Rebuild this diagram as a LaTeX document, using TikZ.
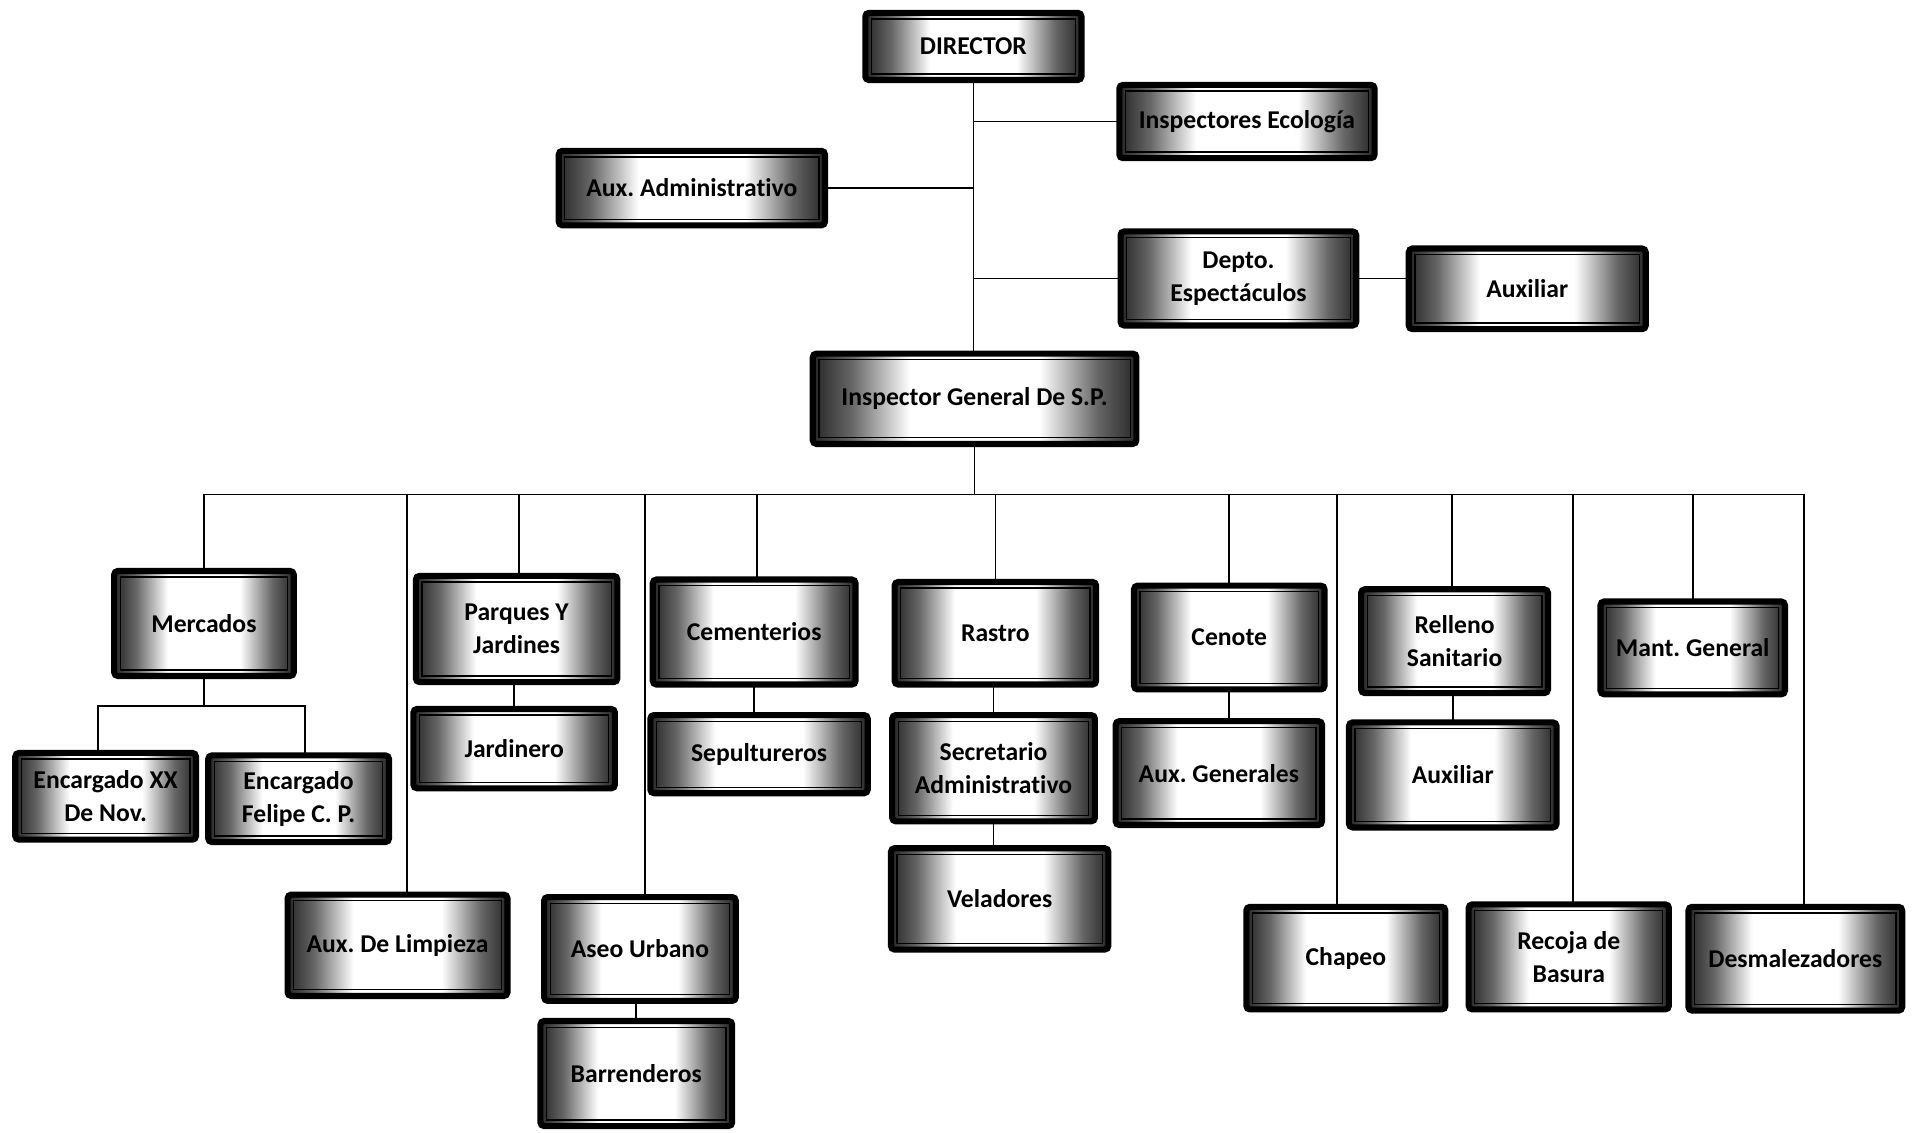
\documentclass[tikz,border=0pt]{standalone}
\usepackage{fontspec}
\setmainfont[Ligatures=NoCommon]{Carlito}
\frenchspacing
\pgfdeclarehorizontalshading{boxshade}{100bp}{color(0bp)=(black!85); color(25bp)=(black!85); color(31bp)=(black!60); color(40bp)=(white); color(60bp)=(white); color(69bp)=(black!60); color(75bp)=(black!85); color(100bp)=(black!85)}
\begin{document}
\begin{tikzpicture}[x=1pt,y=-1pt,
  box/.style={draw=black, line width=5pt, rounded corners=3pt, shade, shading=boxshade,
    inner sep=2pt, align=center, font=\bfseries\fontsize{21}{27}\selectfont,
    path picture={\draw[line width=1pt,sharp corners] ([shift={(5pt,-5pt)}]path picture bounding box.north west) rectangle ([shift={(-5pt,5pt)}]path picture bounding box.south east);}},
  conn/.style={line width=1.4pt, line cap=rect}]
\fill[white] (0,0) rectangle (1568,927);
\useasboundingbox (0,0) rectangle (1568,927);

% top part
\node[box, minimum width=177pt, minimum height=55pt] (dir) at (797,38) {DIRECTOR};
\node[box, minimum width=209pt, minimum height=60pt] (eco) at (1021,99.5) {Inspectores Ecología};
\node[box, minimum width=218pt, minimum height=61pt] (adm) at (566.5,154) {Aux. Administrativo};
\node[box, minimum width=193pt, minimum height=77pt] (dep) at (1014,228) {Depto.\\Espectáculos};
\node[box, minimum width=194pt, minimum height=66pt] (aux1) at (1250.5,236.5) {Auxiliar};
\node[box, minimum width=265pt, minimum height=74pt] (ig) at (798,326.5) {Inspector General De S.P.};

% second level
\node[box, minimum width=147pt, minimum height=86pt] (mer) at (167,510.5) {Mercados};
\node[box, minimum width=180pt, minimum height=83pt] (lim) at (325.5,774) {Aux. De Limpieza};
\node[box, minimum width=165pt, minimum height=87pt] (par) at (423,515) {Parques Y\\Jardines};
\node[box, minimum width=157pt, minimum height=85pt] (ase) at (524,777) {Aseo Urbano};
\node[box, minimum width=166pt, minimum height=86pt] (cem) at (617.5,517.5) {Cementerios};
\node[box, minimum width=165pt, minimum height=84pt] (ras) at (815,518.5) {Rastro};
\node[box, minimum width=156pt, minimum height=85pt] (cen) at (1006.5,522) {Cenote};
\node[box, minimum width=163pt, minimum height=84pt] (cha) at (1102,784.5) {Chapeo};
\node[box, minimum width=153pt, minimum height=85pt] (rel) at (1191,525) {Relleno\\Sanitario};
\node[box, minimum width=164pt, minimum height=86pt] (rec) at (1284.5,783.5) {Recoja de\\Basura};
\node[box, minimum width=151pt, minimum height=76pt] (man) at (1386,530.5) {Mant. General};
\node[box, minimum width=175pt, minimum height=85pt] (des) at (1470,785) {Desmalezadores};

% third level
\node[box, minimum width=148pt, minimum height=71pt] (enc1) at (86.5,652) {Encargado XX\\De Nov.};
\node[box, minimum width=148pt, minimum height=71pt] (enc2) at (244.5,654) {Encargado\\Felipe C. P.};
\node[box, minimum width=165pt, minimum height=65pt] (jar) at (421,613) {Jardinero};
\node[box, minimum width=178pt, minimum height=64pt] (sep) at (621.5,617.5) {Sepultureros};
\node[box, minimum width=166pt, minimum height=87pt] (sec) at (813.5,629) {Secretario\\Administrativo};
\node[box, minimum width=178pt, minimum height=83pt] (vel) at (818.5,736) {Veladores};
\node[box, minimum width=169pt, minimum height=85pt] (auxg) at (998,633) {Aux. Generales};
\node[box, minimum width=170pt, minimum height=86pt] (aux2) at (1189.5,634.5) {Auxiliar};
\node[box, minimum width=157pt, minimum height=86pt] (bar) at (521,879) {Barrenderos};

% top connectors
\draw[conn] (dir.south) -- (dir.south |- ig.north);
\draw[conn] (eco.west) -- (eco.west -| dir.south);
\draw[conn] (adm.east) -- (adm.east -| dir.south);
\draw[conn] (dep.west) -- (dep.west -| dir.south);
\draw[conn] (dep.east) -- (dep.east -| aux1.west);

% main bus
\coordinate (dmer) at (167,405);
\coordinate (dlim) at (333,405);
\coordinate (dpar) at (425,405);
\coordinate (dase) at (528,405);
\coordinate (dcem) at (620,405);
\coordinate (dras) at (815,405);
\coordinate (dcen) at (1006,405);
\coordinate (dcha) at (1095,405);
\coordinate (drel) at (1189,405);
\coordinate (drec) at (1288,405);
\coordinate (dman) at (1386,405);
\coordinate (ddes) at (1477,405);
\draw[conn] (ig.south) -- (ig.south |- dmer);
\draw[conn] (dmer) -- (ddes);
\foreach \d/\n in {dmer/mer, dlim/lim, dpar/par, dase/ase, dcem/cem, dras/ras, dcen/cen, dcha/cha, drel/rel, drec/rec, dman/man, ddes/des}
  \draw[conn] (\d) -- (\d |- \n.north);

% Mercados sub bus
\coordinate (m1) at (80,578);
\coordinate (m2) at (250,578);
\draw[conn] (mer.south) -- (mer.south |- m1);
\draw[conn] (m1 |- enc1.north) -- (m1) -- (m2) -- (m2 |- enc2.north);

% vertical pairs
\draw[conn] (jar.north) -- (jar.north |- par.south);
\draw[conn] (cem.south) -- (cem.south |- sep.north);
\draw[conn] (sec.north) -- (sec.north |- ras.south);
\draw[conn] (sec.south) -- (sec.south |- vel.north);
\draw[conn] (cen.south) -- (cen.south |- auxg.north);
\draw[conn] (aux2.north) -- (aux2.north |- rel.south);
\draw[conn] (bar.north) -- (bar.north |- ase.south);
\end{tikzpicture}
\end{document}
